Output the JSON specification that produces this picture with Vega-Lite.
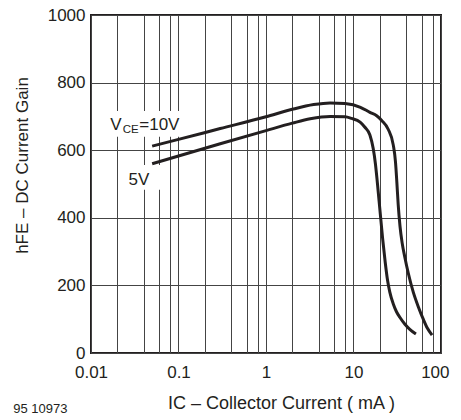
{
  "$schema": "https://vega.github.io/schema/vega-lite/v6.json",
  "width": 350,
  "height": 338,
  "autosize": {"type": "none"},
  "padding": {"left": 91, "top": 15, "right": 20, "bottom": 63},
  "background": "white",
  "config": {
    "font": "Liberation Sans",
    "view": {"stroke": "#231f20", "strokeWidth": 2},
    "axis": {"domain": false, "ticks": false, "labelFont": "Liberation Sans", "titleFont": "Liberation Sans", "labelColor": "#231f20", "titleColor": "#231f20", "titleFontWeight": "normal", "gridColor": "#444444", "gridWidth": 1, "gridOpacity": 1, "labelOverlap": false, "labelBound": false}
  },
  "title": {"text": "95 10973", "orient": "bottom", "anchor": "start", "frame": "bounds", "fontSize": 13, "fontWeight": "normal", "color": "#231f20", "offset": -9},
  "encoding": {
    "x": {
      "field": "ic", "type": "quantitative",
      "scale": {"type": "log", "domain": [0.01, 100], "nice": false},
      "axis": {
        "values": [0.01, 0.02, 0.04, 0.06, 0.08, 0.1, 0.2, 0.4, 0.6, 0.8, 1, 2, 4, 6, 8, 10, 20, 40, 60, 80, 100],
        "labelExpr": "datum.value > 95 ? '100' : (datum.value > 9.5 && datum.value < 10.5) ? '10' : (datum.value > 0.95 && datum.value < 1.05) ? '1' : (datum.value > 0.095 && datum.value < 0.105) ? '0.1' : (datum.value < 0.0105) ? '0.01' : ''",
        "labelFontSize": 17, "labelPadding": 11, "labelFlush": false, "labelBound": false, "labelOverlap": false,
        "labelAlign": {"condition": {"test": "datum.value > 95", "value": "right"}, "value": "center"},
        "labelOffset": {"condition": {"test": "datum.value > 95", "value": 8}, "value": 0},
        "title": "IC – Collector Current ( mA )", "titleFontSize": 18, "titlePadding": 14, "titleX": 190
      }
    },
    "y": {
      "field": "hfe", "type": "quantitative",
      "scale": {"domain": [0, 1000], "nice": false},
      "axis": {
        "values": [0, 200, 400, 600, 800, 1000],
        "format": "d",
        "labelFontSize": 17, "labelPadding": 6,
        "title": "hFE – DC Current Gain", "titleFontSize": 17, "titlePadding": 16, "titleY": 150
      }
    }
  },
  "layer": [
    {
      "data": {"values": [
        {"ic": 0.0155, "ic2": 0.118, "hfe": 640, "hfe2": 716},
        {"ic": 0.0254, "ic2": 0.062, "hfe": 483, "hfe2": 556}
      ]},
      "mark": {"type": "rect", "color": "white"},
      "encoding": {"x2": {"field": "ic2"}, "y2": {"field": "hfe2"}}
    },
    {
      "data": {"values": [
        {"vce": "10V", "ic": 0.05, "hfe": 612},
        {"vce": "10V", "ic": 0.1, "hfe": 632},
        {"vce": "10V", "ic": 0.3, "hfe": 664},
        {"vce": "10V", "ic": 1, "hfe": 699},
        {"vce": "10V", "ic": 2, "hfe": 721},
        {"vce": "10V", "ic": 3.5, "hfe": 735},
        {"vce": "10V", "ic": 5.4, "hfe": 740},
        {"vce": "10V", "ic": 8, "hfe": 738},
        {"vce": "10V", "ic": 12, "hfe": 727},
        {"vce": "10V", "ic": 15.4, "hfe": 712},
        {"vce": "10V", "ic": 18.4, "hfe": 702},
        {"vce": "10V", "ic": 21, "hfe": 688},
        {"vce": "10V", "ic": 24.9, "hfe": 662},
        {"vce": "10V", "ic": 28.5, "hfe": 615},
        {"vce": "10V", "ic": 30.2, "hfe": 565},
        {"vce": "10V", "ic": 31.3, "hfe": 505},
        {"vce": "10V", "ic": 32.4, "hfe": 440},
        {"vce": "10V", "ic": 34, "hfe": 375},
        {"vce": "10V", "ic": 36, "hfe": 325},
        {"vce": "10V", "ic": 38.5, "hfe": 285},
        {"vce": "10V", "ic": 42.3, "hfe": 236},
        {"vce": "10V", "ic": 48.2, "hfe": 180},
        {"vce": "10V", "ic": 55, "hfe": 137},
        {"vce": "10V", "ic": 62.7, "hfe": 100},
        {"vce": "10V", "ic": 70, "hfe": 73},
        {"vce": "10V", "ic": 79, "hfe": 53},
        {"vce": "5V", "ic": 0.05, "hfe": 560},
        {"vce": "5V", "ic": 0.1, "hfe": 583},
        {"vce": "5V", "ic": 0.3, "hfe": 619},
        {"vce": "5V", "ic": 1, "hfe": 658},
        {"vce": "5V", "ic": 2, "hfe": 680},
        {"vce": "5V", "ic": 3.2, "hfe": 693},
        {"vce": "5V", "ic": 5.4, "hfe": 700},
        {"vce": "5V", "ic": 8, "hfe": 699},
        {"vce": "5V", "ic": 9.5, "hfe": 694},
        {"vce": "5V", "ic": 11.9, "hfe": 683},
        {"vce": "5V", "ic": 13.5, "hfe": 668},
        {"vce": "5V", "ic": 15.4, "hfe": 645},
        {"vce": "5V", "ic": 16.8, "hfe": 605},
        {"vce": "5V", "ic": 17.8, "hfe": 560},
        {"vce": "5V", "ic": 18.8, "hfe": 500},
        {"vce": "5V", "ic": 20.1, "hfe": 420},
        {"vce": "5V", "ic": 21.5, "hfe": 340},
        {"vce": "5V", "ic": 23, "hfe": 270},
        {"vce": "5V", "ic": 24.5, "hfe": 215},
        {"vce": "5V", "ic": 26, "hfe": 180},
        {"vce": "5V", "ic": 28.5, "hfe": 145},
        {"vce": "5V", "ic": 31, "hfe": 122},
        {"vce": "5V", "ic": 34, "hfe": 105},
        {"vce": "5V", "ic": 38.7, "hfe": 85},
        {"vce": "5V", "ic": 44, "hfe": 70},
        {"vce": "5V", "ic": 51.7, "hfe": 56}
      ]},
      "mark": {"type": "line", "color": "#231f20", "strokeWidth": 3, "interpolate": "monotone", "strokeCap": "butt"},
      "encoding": {"detail": {"field": "vce", "type": "nominal"}}
    },
    {
      "data": {"values": [
        {"label": "V", "ic": 0.0166, "hfe": 661},
        {"label": "=10V", "ic": 0.0356, "hfe": 661},
        {"label": "5V", "ic": 0.0269, "hfe": 498}
      ]},
      "mark": {"type": "text", "align": "left", "baseline": "alphabetic", "fontSize": 17, "color": "#231f20", "font": "Liberation Sans"},
      "encoding": {"text": {"field": "label"}}
    },
    {
      "data": {"values": [
        {"label": "CE", "ic": 0.0231, "hfe": 651}
      ]},
      "mark": {"type": "text", "align": "left", "baseline": "alphabetic", "fontSize": 11.5, "color": "#231f20", "font": "Liberation Sans"},
      "encoding": {"text": {"field": "label"}}
    }
  ]
}
